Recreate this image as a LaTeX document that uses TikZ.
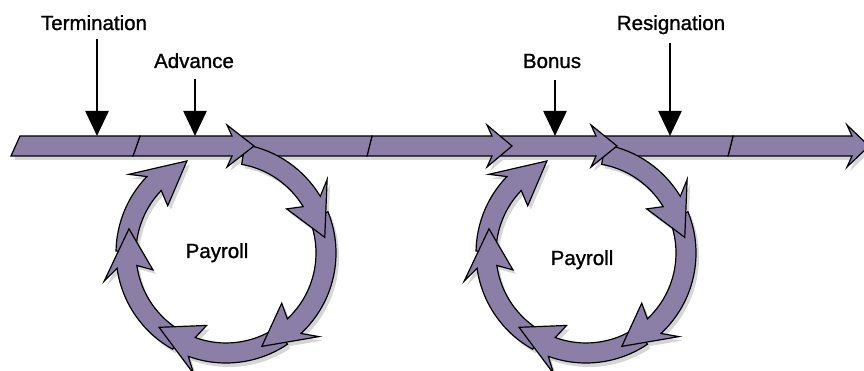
\documentclass[tikz,border=0pt]{standalone}
\usepackage{fontspec}
\setmainfont{Liberation Sans}
\newfontfamily\lblfont[FakeBold=1.2]{Liberation Sans}
\usetikzlibrary{arrows.meta}
\definecolor{bandcol}{RGB}{140,127,167}
\definecolor{shadecol}{RGB}{214,214,214}
\tikzset{
  piece/.style={fill=bandcol, draw=black, line width=1.2pt, line join=miter},
  shadowpiece/.style={fill=shadecol, draw=none},
  evtlabel/.style={inner sep=0pt, anchor=base, font=\lblfont\fontsize{20.5}{24}\selectfont},
  evtarrow/.style={line width=2.5pt, -{Triangle[length=25pt,width=23pt]}},
}
\newcommand\ringseg[6]{% style, cx, cy, start, back, tip
  \pgfmathsetmacro\rsb{#5+5}%
  \path[#1] ({#2+110*cos(#4)},{#3+110*sin(#4)}) arc[start angle=#4,end angle=#5,radius=110pt]
    -- ({#2+125*cos(\rsb)},{#3+125*sin(\rsb)}) -- ({#2+100*cos(#6)},{#3+100*sin(#6)})
    -- ({#2+75*cos(\rsb)},{#3+75*sin(\rsb)}) -- ({#2+90*cos(#5)},{#3+90*sin(#5)})
    arc[start angle=#5,end angle=#4,radius=90pt] -- cycle;}
\newcommand\payring[3]{% style, cx, cy
  \ringseg{#1}{#2}{#3}{-181}{-224}{-247}
  \ringseg{#1}{#2}{#3}{-119}{-172}{-194}
  \ringseg{#1}{#2}{#3}{-56}{-110}{-132}
  \ringseg{#1}{#2}{#3}{22}{-47}{-69}
  \ringseg{#1}{#2}{#3}{80}{31}{9}}
\newcommand\drawall[2]{% band style, ring style
  \path[#1] (728,215) -- (733,235) -- (852,235) -- (847,246) -- (869,225) -- (847,204) -- (852,215) -- cycle;
  \path[#1] (602,215) -- (602,235) -- (733,235) -- (728,215) -- cycle;
  \payring{#2}{586}{118}
  \path[#1] (498,215) -- (498,235) -- (596,235) -- (591,246) -- (617,225) -- (591,204) -- (596,215) -- cycle;
  \path[#1] (367,215) -- (372,235) -- (492,235) -- (487,246) -- (512,225) -- (487,204) -- (492,215) -- cycle;
  \path[#1] (236,215) -- (236,235) -- (372,235) -- (367,215) -- cycle;
  \payring{#2}{226}{118}
  \path[#1] (133,215) -- (140,235) -- (232,235) -- (227,246) -- (254,225) -- (227,204) -- (232,215) -- cycle;
  \path[#1] (11,215) -- (20,235) -- (140,235) -- (133,215) -- cycle;
}
\begin{document}
\begin{tikzpicture}[x=1pt,y=1pt]
  \useasboundingbox (0,0) rectangle (864,371);
  \begin{scope}[shift={(3,-4)}]
    \drawall{shadowpiece}{shadowpiece}
  \end{scope}
  \drawall{piece}{piece}
  % labels
  \node[evtlabel] (term) at (94,341) {Termination};
  \node[evtlabel] (adv) at (194,303) {Advance};
  \node[evtlabel] (bon) at (552,303) {Bonus};
  \node[evtlabel] (res) at (671,341) {Resignation};
  \node[evtlabel] (payA) at (217,113) {Payroll};
  \node[evtlabel] (payB) at (582,106) {Payroll};
  \coordinate (termtip) at (97,235);
  \coordinate (advtip) at (195,235);
  \coordinate (bontip) at (555,235);
  \coordinate (restip) at (670,235);
  \draw[evtarrow, shorten <=9pt] (term.base -| termtip) -- (termtip);
  \draw[evtarrow, shorten <=11pt] (adv.base -| advtip) -- (advtip);
  \draw[evtarrow, shorten <=12pt] (bon.base -| bontip) -- (bontip);
  \draw[evtarrow, shorten <=13pt] (res.base -| restip) -- (restip);
\end{tikzpicture}
\end{document}
